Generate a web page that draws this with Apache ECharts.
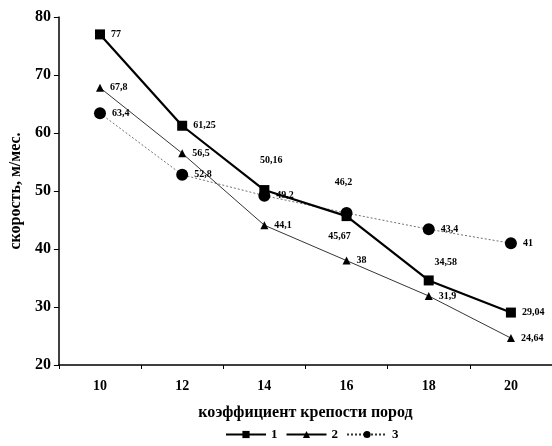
<!DOCTYPE html>
<html><head><meta charset="utf-8">
<script src="https://cdn.jsdelivr.net/npm/echarts@6/dist/echarts.min.js"></script>
<style>html,body{margin:0;padding:0;background:#fff}#c{width:552px;height:446px}</style>
</head><body><div id="c"></div>
<script>
const categories = ['10','12','14','16','18','20'];
const series1 = [77, 61.25, 50.16, 45.67, 34.58, 29.04];
const series2 = [67.8, 56.5, 44.1, 38, 31.9, 24.64];
const series3 = [63.4, 52.8, 49.2, 46.2, 43.4, 41];
const seriesNames = ['1','2','3'];
const xName = 'коэффициент крепости пород';
const yName = 'скорость, м/мес.';

const font = 'Liberation Serif';
const fmt = v => String(v).replace('.', ',');
const lbl = {show:true, position:'right', distance:6, fontFamily:font, fontWeight:'bold', fontSize:10, color:'#000',
  formatter: p => fmt(p.value)};

function items(arr, special){
  return arr.map((v,i)=> special[i] ? {value:v, label:special[i]} : v);
}

const chart = echarts.init(document.getElementById('c'));
chart.setOption({
  animation:false,
  grid:{left:51, right:-2, top:17, bottom:81},
  xAxis:{type:'category', data:categories, boundaryGap:true,
    name:xName, nameLocation:'middle', nameGap:40,
    nameTextStyle:{fontFamily:font, fontWeight:'bold', fontSize:16, color:'#000'},
    axisLine:{lineStyle:{color:'#000', width:1.5}},
    axisTick:{show:true, inside:false, length:4, lineStyle:{color:'#000'}},
    axisLabel:{fontFamily:font, fontWeight:'bold', fontSize:14, color:'#000', margin:14},
    splitLine:{show:false}},
  yAxis:{type:'value', min:20, max:80, interval:10,
    name:yName, nameLocation:'middle', nameGap:31, nameRotate:90,
    nameTextStyle:{fontFamily:font, fontWeight:'bold', fontSize:16, color:'#000'},
    axisLine:{show:true, lineStyle:{color:'#000', width:1.5}},
    axisTick:{show:true, length:5, lineStyle:{color:'#000'}},
    axisLabel:{fontFamily:font, fontWeight:'bold', fontSize:16, color:'#000', margin:8},
    splitLine:{show:false}},
  legend:{bottom:0, left:220, itemWidth:40, itemHeight:9, itemGap:8,
    textStyle:{fontFamily:font, fontWeight:'bold', fontSize:13, color:'#000'},
    data:seriesNames},
  series:[
    {name:seriesNames[0], type:'line', data:items(series1, {
        2:{position:'top', offset:[7,-14]},
        3:{position:'bottom', offset:[-7,4]},
        4:{position:'top', offset:[17,-2]}
      }),
      symbol:'rect', symbolSize:10, itemStyle:{color:'#000'},
      lineStyle:{color:'#000', width:2.2}, label:lbl, z:3},
    {name:seriesNames[1], type:'line', data:series2,
      symbol:'triangle', symbolSize:8, itemStyle:{color:'#000'},
      lineStyle:{color:'#000', width:0.8}, label:lbl, z:2},
    {name:seriesNames[2], type:'line', data:items(series3, {
        3:{position:'top', offset:[-3,-14]}
      }),
      symbol:'circle', symbolSize:12, itemStyle:{color:'#000'},
      lineStyle:{color:'#333', width:0.7, type:[2,2]}, label:lbl, z:2}
  ]
});
</script></body></html>
